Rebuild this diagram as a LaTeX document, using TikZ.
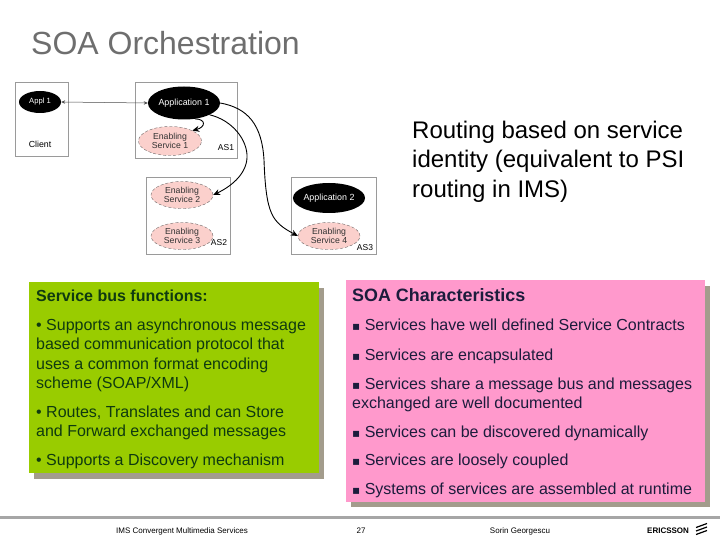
\documentclass[tikz,border=0pt]{standalone}
\usepackage{fontspec}
\setmainfont{Liberation Sans}
\newfontfamily\djv{DejaVu Sans}
\usetikzlibrary{arrows.meta,shapes.geometric}
\definecolor{greenbox}{HTML}{99CC00}
\definecolor{pinkbox}{HTML}{FF99CC}
\definecolor{shadowc}{HTML}{A39C8C}
\definecolor{titlec}{HTML}{6E6E6E}
\definecolor{greentxt}{HTML}{0F3A10}
\definecolor{pinktxt}{HTML}{1C1C3C}
\definecolor{esfill}{HTML}{FBD0CC}
\definecolor{framec}{HTML}{9A9A9A}
\newcommand{\sqb}{{\djv\fontsize{12}{12}\selectfont ▪}}
\tikzset{
  ln/.style={anchor=base west,inner sep=0pt,font=\fontsize{16}{18}\selectfont},
  gl/.style={ln,text=greentxt},
  pl/.style={ln,text=pinktxt},
  frame/.style={draw=framec,line width=0.8pt,fill=white},
  blob/.style={ellipse,fill=black,text=white,inner sep=0pt,align=center,font=\fontsize{8.9}{10}\selectfont},
  es/.style={ellipse,draw=black!70,densely dashed,line width=0.3pt,fill=esfill,text=black!80,inner sep=0pt,align=center,font=\fontsize{8.7}{8.8}\selectfont},
  tag/.style={inner sep=0pt,text=black,font=\fontsize{8.5}{10}\selectfont},
  curve/.style={line width=0.9pt,-{Stealth[length=7pt,width=6pt]}},
  foot/.style={inner sep=0pt,anchor=base,text=black,font=\fontsize{8}{10}\selectfont},
}
\begin{document}
\begin{tikzpicture}[x=1pt,y=-1pt]
\useasboundingbox (0,0) rectangle (720,540);
\fill[white] (0,0) rectangle (720,540);
% title
\node[anchor=base west,inner sep=0pt,text=titlec,font=\fontsize{32}{36}\selectfont] (title) at (31,55) {SOA Orchestration};
\node[anchor=base west,inner sep=0pt,text=black,font=\fontsize{24}{28}\selectfont] (r1) at (412,139) {Routing based on service};
\node[anchor=base west,inner sep=0pt,text=black,font=\fontsize{24}{28}\selectfont] (r2) at (412,168) {identity (equivalent to PSI};
\node[anchor=base west,inner sep=0pt,text=black,font=\fontsize{24}{28}\selectfont] (r3) at (412,197) {routing in IMS)};
% frames
\draw[frame] (15,82) rectangle (68,156);
\draw[frame] (135,82) rectangle (237,158);
\draw[frame] (146,177) rectangle (230,254);
\draw[frame] (291,177) rectangle (376,254);
% nodes
\node[blob,minimum width=42pt,minimum height=22pt,font=\fontsize{7.6}{9}\selectfont] (appl) at (40,102) {Appl 1};
\node[blob,minimum width=66pt,minimum height=33pt] (app1) at (184,103) {Application 1};
\node[es,minimum width=63pt,minimum height=29pt] (es1) at (170,141) {Enabling\\Service 1};
\node[es,minimum width=62pt,minimum height=27pt] (es2) at (182,195) {Enabling\\Service 2};
\node[es,minimum width=62pt,minimum height=27pt] (es3) at (182,236) {Enabling\\Service 3};
\node[blob,minimum width=62pt,minimum height=30pt] (app2) at (329,198) {Application 2};
\node[es,minimum width=62pt,minimum height=27pt] (es4) at (329,236) {Enabling\\Service 4};
\node[tag,font=\fontsize{8.8}{10}\selectfont] (client) at (40,144) {Client};
\node[tag] (as1) at (226,148) {AS1};
\node[tag] (as2) at (219,243) {AS2};
\node[tag] (as3) at (365,248) {AS3};
% connectors
\draw[line width=0.5pt,draw=black!70,{Stealth[length=4pt,width=3.5pt]}-{Stealth[length=4pt,width=3.5pt]}] (appl.east) -- (app1.west);
\draw[curve] (app1.east) .. controls (248,108) and (262,125) .. (264,160) .. controls (266,215) and (272,222) .. (es4.west);
\draw[curve] (app1.south east) .. controls (232,120) and (248,140) .. (247,158) .. controls (246,175) and (230,187) .. (es2.east);
\draw[curve] (app1.305) .. controls (206,119) and (206,127) .. (es1.25);
% boxes
\fill[shadowc] (34,288) rectangle (324,479);
\fill[greenbox] (29,282) rectangle (319,473);
\fill[shadowc] (351,286) rectangle (710,507);
\fill[pinkbox] (346,280) rectangle (705,502);
% left text
\node[gl,font=\bfseries\fontsize{16}{18}\selectfont] (g0) at (36,301) {Service bus functions:};
\node[gl] (g1) at (36,330) {• Supports an asynchronous message};
\node[gl] (g2) at (36,349) {based communication protocol that};
\node[gl] (g3) at (36,369) {uses a common format encoding};
\node[gl] (g4) at (36,388) {scheme (SOAP/XML)};
\node[gl] (g5) at (36,417) {• Routes, Translates and can Store};
\node[gl] (g6) at (36,436) {and Forward exchanged messages};
\node[gl] (g7) at (36,465) {• Supports a Discovery mechanism};
% right text
\node[pl,font=\bfseries\fontsize{17.9}{18}\selectfont] (p0) at (352,301) {SOA Characteristics};
\node[pl] (p1) at (352,330) {\sqb\ Services have well defined Service Contracts};
\node[pl] (p2) at (352,360) {\sqb\ Services are encapsulated};
\node[pl] (p3) at (352,389) {\sqb\ Services share a message bus and messages};
\node[pl] (p4) at (352,408) {exchanged are well documented};
\node[pl] (p5) at (352,437) {\sqb\ Services can be discovered dynamically};
\node[pl] (p6) at (352,465) {\sqb\ Services are loosely coupled};
\node[pl] (p7) at (352,494) {\sqb\ Systems of services are assembled at runtime};
% footer
\fill[black!35] (0,516) rectangle (720,519);
\node[foot] (f1) at (182,533) {IMS Convergent Multimedia Services};
\node[foot] (f2) at (361,533) {27};
\node[foot] (f3) at (520,533) {Sorin Georgescu};
\node[foot,anchor=base west,font=\bfseries\fontsize{8}{10}\selectfont] (f4) at (647,533) {ERICSSON};
\foreach \dy in {0,3.5,7}{
  \draw[line width=1.2pt,black] (696,527.5+\dy) -- (707,523.5+\dy);
}
\end{tikzpicture}
\end{document}
